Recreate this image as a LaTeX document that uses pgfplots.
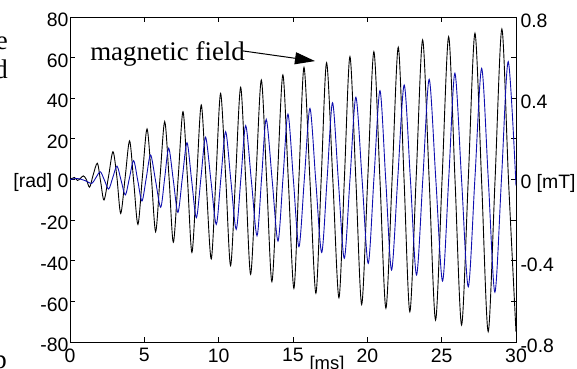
\documentclass[border=0pt]{standalone}
\usepackage{fontspec}
\setmainfont{Liberation Sans}
\newfontfamily\timesf{Liberation Serif}
\usepackage{pgfplots}
\pgfplotsset{compat=1.18}
\usetikzlibrary{arrows.meta}
\definecolor{mblue}{RGB}{15,15,175}
\begin{document}
\begin{tikzpicture}
\begin{axis}[
  name=main,
  scale only axis, width=446bp, height=325bp,
  xmin=0, xmax=30, ymin=-80, ymax=80,
  xtick={0,5,...,30},
  ytick={-80,-60,-40,-20,0,20,40,60,80},
  yticklabels={-80,-60,-40,-20,{[rad] 0},20,40,60,80},
  ytick pos=left, xtick pos=both,
  tick align=inside, major tick length=5bp,
  axis line style={line width=0.9bp},
  tick style={line width=0.8bp, black},
  ticklabel style={font=\fontsize{19.5}{21}\selectfont},
  yticklabel style={xshift=2bp, yshift=-3bp},
  xticklabel style={yshift=-3bp},
  /pgf/number format/assume math mode=true,
]
\addplot[black, line width=0.9bp, smooth] coordinates {
(0.0,0) (0.3,1) (0.5,-0.5) (0.7,0.5) (0.9,1.8) (1.1,0) (1.32,-3.8) (1.55,2)
(1.84,8.0) (2.06,-1) (2.29,-10.1) (2.6,1.8) (2.89,13.7) (3.15,1.5) (3.41,-16.7)
(3.71,1) (4.01,19.0) (4.29,-1.5) (4.57,-22.1) (4.87,1.4) (5.18,24.9) (5.47,1.6)
(5.76,-25.7) (6.06,1.4) (6.37,28.5) (6.66,1.2) (6.95,-30.9) (7.28,1.2) (7.6,33.4)
(7.9,0.7) (8.2,-35.9) (8.52,0.4) (8.83,36.7) (9.16,-1.2) (9.5,-39.1) (9.82,1.6)
(10.13,42.4) (10.47,1.5) (10.8,-42.4) (11.14,1.5) (11.48,45.4) (11.82,-0.6)
(12.15,-46.7) (12.51,1.2) (12.87,49.0) (13.23,-0.6) (13.58,-50.3) (13.95,0.6)
(14.32,51.5) (14.69,-1) (15.06,-53.6) (15.4,0.8) (15.74,55.2) (16.14,-0.4)
(16.54,-56.0) (16.9,0.7) (17.26,57.5) (17.68,-0.3) (18.09,-58.2) (18.46,1)
(18.83,60.5) (19.23,-0.5) (19.62,-61.5) (20.03,0.7) (20.44,62.9) (20.85,-0.2)
(21.25,-63.4) (21.67,0.8) (22.08,65.1) (22.47,0) (22.86,-65.1) (23.29,1.8)
(23.72,68.7) (24.16,-0.2) (24.59,-69.2) (25.03,0.5) (25.47,70.3) (25.9,-0.6)
(26.34,-71.6) (26.79,0.2) (27.24,72.0) (27.69,-1.4) (28.13,-74.9) (28.59,-0.4)
(29.05,74.1) (29.5,-1) (30,-75)
};
\addplot[black, line width=2.2bp] coordinates {(0,56) (0,-80)};
\draw[line width=1bp, -{Triangle[length=20bp,width=12bp]}] (axis cs:11.63,63.3) -- (axis cs:16.48,58.3);
\node[anchor=base west, inner sep=0, font=\timesf\fontsize{27}{30}\selectfont] at (axis cs:1.35,58.6) {magnetic field};
\end{axis}
\begin{axis}[
  scale only axis, width=446bp, height=325bp,
  xmin=0, xmax=30, ymin=-0.8, ymax=0.8,
  axis x line=none,
  axis y line*=right,
  ytick={-0.8,-0.6,-0.4,-0.2,0,0.2,0.4,0.6,0.8},
  yticklabels={-0.8,,-0.4,,{0 [mT]},,0.4,,0.8},
  tick align=inside, major tick length=5bp,
  axis line style={line width=0.9bp},
  tick style={line width=0.8bp, black},
  ticklabel style={font=\fontsize{19.5}{21}\selectfont},
  yticklabel style={xshift=1bp, yshift=-4bp},
]
\addplot[mblue, line width=0.9bp, smooth] coordinates {
(0.0,0.0) (0.5,0.005) (1.0,-0.005) (1.46,-0.019) (1.75,0.01) (2.04,0.038)
(2.32,-0.004) (2.6,-0.047) (2.88,0.01) (3.16,0.066) (3.44,-0.005) (3.72,-0.076)
(4.0,0.008) (4.28,0.093) (4.56,-0.006) (4.84,-0.106) (5.13,0.007) (5.42,0.121)
(5.76,-0.008) (6.1,-0.137) (6.37,0.008) (6.64,0.154) (6.95,-0.004) (7.26,-0.162)
(7.56,0.01) (7.87,0.181) (8.18,-0.003) (8.5,-0.188) (8.81,0.01) (9.12,0.208)
(9.48,-0.006) (9.84,-0.221) (10.15,0.007) (10.47,0.235) (10.82,-0.005) (11.18,-0.245)
(11.5,0.01) (11.82,0.265) (12.2,-0.006) (12.58,-0.277) (12.89,0.01) (13.2,0.296)
(13.6,-0.004) (13.99,-0.303) (14.33,0.01) (14.66,0.322) (15.03,-0.005) (15.4,-0.331)
(15.77,0.01) (16.14,0.350) (16.53,-0.005) (16.93,-0.359) (17.3,0.01) (17.66,0.378)
(18.05,-0.005) (18.45,-0.388) (18.84,0.01) (19.23,0.405) (19.65,-0.004) (20.06,-0.413)
(20.45,0.012) (20.85,0.437) (21.24,-0.005) (21.63,-0.446) (22.05,0.01) (22.48,0.465)
(22.9,-0.003) (23.31,-0.470) (23.74,0.012) (24.16,0.493) (24.61,-0.004) (25.06,-0.500)
(25.48,0.012) (25.89,0.523) (26.34,-0.003) (26.79,-0.528) (27.24,0.01) (27.69,0.547)
(28.14,-0.004) (28.58,-0.555) (29.03,0.012) (29.48,0.580) (30,-0.03)
};
\end{axis}
\node[anchor=base east, inner sep=0, font=\timesf\fontsize{27}{30}\selectfont] at ([shift={(-62bp,292bp)}]main.south west) {e};
\node[anchor=base east, inner sep=0, font=\timesf\fontsize{27}{30}\selectfont] at ([shift={(-62bp,263bp)}]main.south west) {d};
\node[anchor=base east, inner sep=0, font=\timesf\fontsize{27}{30}\selectfont] at ([shift={(-63bp,-26bp)}]main.south west) {p};
\node[anchor=north, inner sep=0, font=\fontsize{18.5}{20}\selectfont] at ([shift={(257bp,-14bp)}]main.south west) {[ms]};
\pgfresetboundingbox
\useasboundingbox ([shift={(-70bp,-27bp)}]main.south west) rectangle ([shift={(507bp,342bp)}]main.south west);
\end{tikzpicture}
\end{document}
